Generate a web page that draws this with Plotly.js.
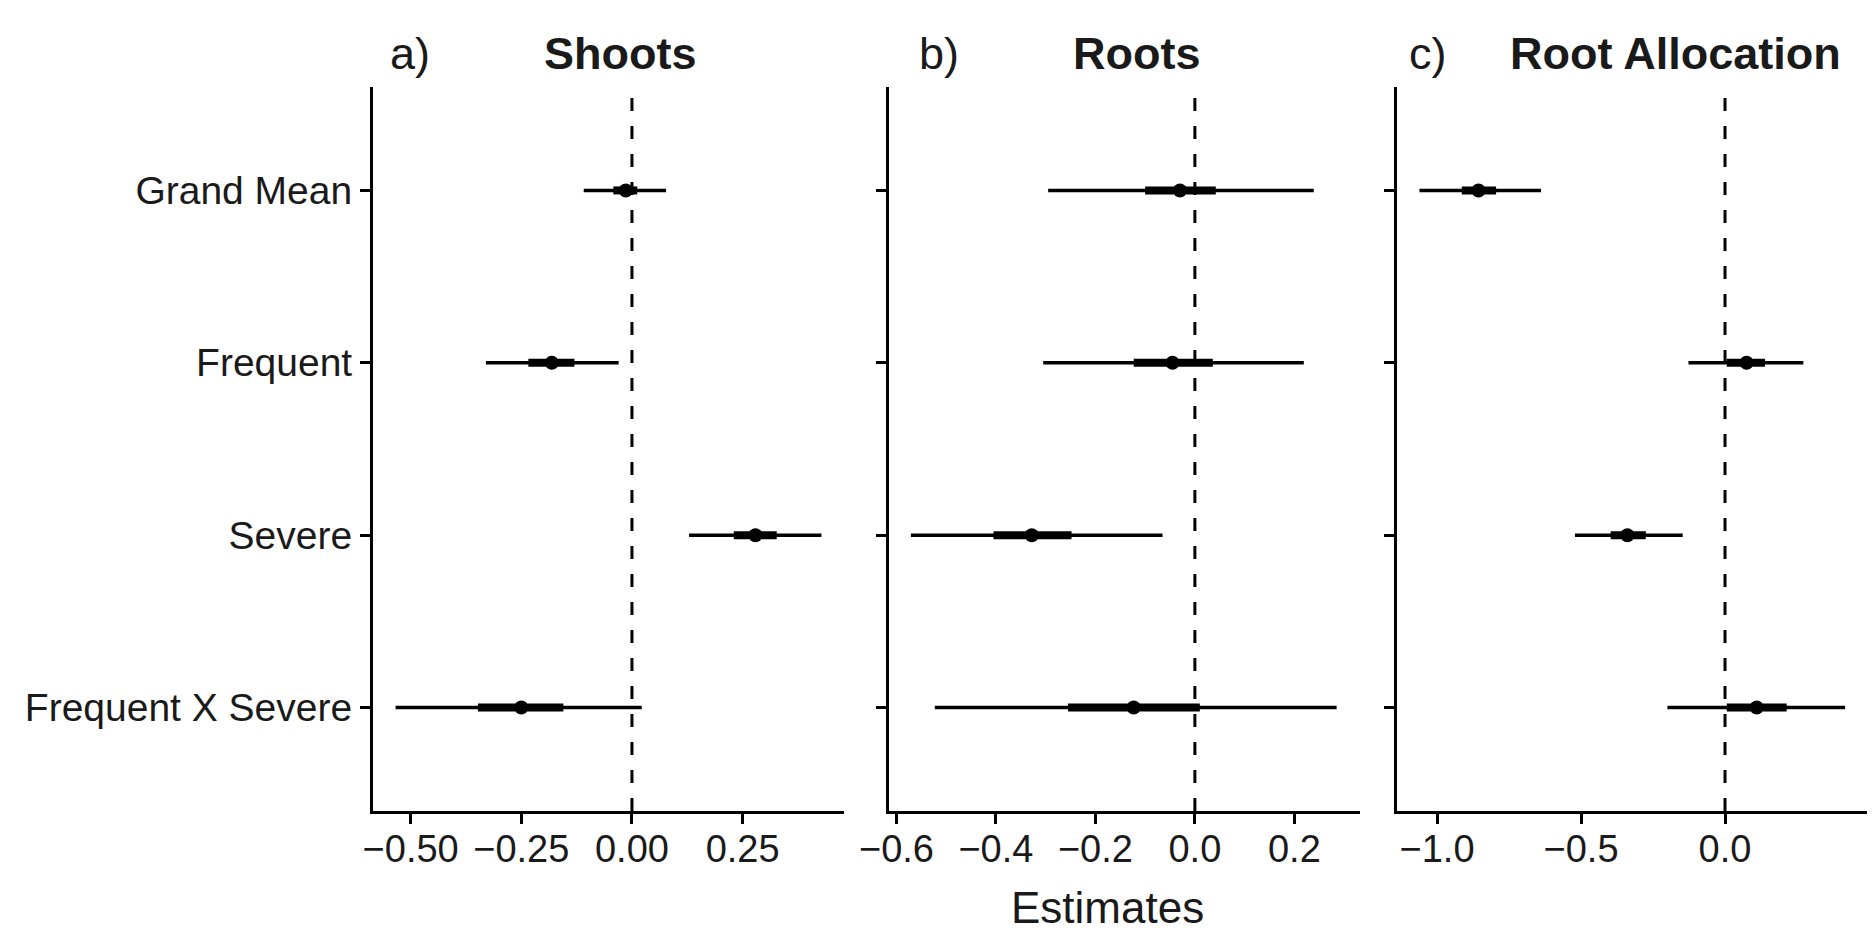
<!DOCTYPE html>
<html>
<head>
<meta charset="utf-8">
<script src="https://cdn.plot.ly/plotly-3.0.1.min.js"></script>
<style>
  html, body { margin: 0; padding: 0; background: #fff; }
  #chart { width: 1873px; height: 935px; }
</style>
</head>
<body>
<div id="chart"></div>
<script>
// ---------- data ----------
const categories = ['Grand Mean', 'Frequent', 'Severe', 'Frequent X Severe'];
const categoryOrder = ['Frequent X Severe', 'Severe', 'Frequent', 'Grand Mean']; // bottom -> top

// a) Shoots
const shootsEst  = [-0.014, -0.181,  0.279, -0.250];
const shootsLo95 = [-0.109, -0.330,  0.129, -0.534];
const shootsHi95 = [ 0.077, -0.030,  0.428,  0.022];
const shootsLo50 = [-0.042, -0.234,  0.230, -0.348];
const shootsHi50 = [ 0.012, -0.130,  0.327, -0.155];

// b) Roots
const rootsEst  = [-0.030, -0.045, -0.328, -0.123];
const rootsLo95 = [-0.295, -0.305, -0.571, -0.523];
const rootsHi95 = [ 0.239,  0.219, -0.065,  0.285];
const rootsLo50 = [-0.100, -0.123, -0.405, -0.255];
const rootsHi50 = [ 0.042,  0.036, -0.248,  0.010];

// c) Root Allocation
const allocEst  = [-0.856,  0.075, -0.339,  0.110];
const allocLo95 = [-1.061, -0.127, -0.521, -0.200];
const allocHi95 = [-0.639,  0.272, -0.147,  0.417];
const allocLo50 = [-0.914,  0.006, -0.397,  0.006];
const allocHi50 = [-0.795,  0.139, -0.275,  0.214];

// tick labels
const shootsTickVals = [-0.5, -0.25, 0, 0.25];
const shootsTickText = ['\u22120.50', '\u22120.25', '0.00', '0.25'];
const rootsTickVals  = [-0.6, -0.4, -0.2, 0, 0.2];
const rootsTickText  = ['\u22120.6', '\u22120.4', '\u22120.2', '0.0', '0.2'];
const allocTickVals  = [-1.0, -0.5, 0];
const allocTickText  = ['\u22121.0', '\u22120.5', '0.0'];

const panelTags   = ['a)', 'b)', 'c)'];
const panelTitles = ['Shoots', 'Roots', 'Root Allocation'];
const xAxisTitle  = 'Estimates';

// ---------- build ----------
const FONT = 'Liberation Sans, Arial, sans-serif';
const INK = '#000000';

function segs(lo, hi) {
  const xs = [], ys = [];
  for (let i = 0; i < categories.length; i++) {
    xs.push(lo[i], hi[i], null);
    ys.push(categories[i], categories[i], null);
  }
  return {xs, ys};
}

const panels = [
  {est: shootsEst, lo95: shootsLo95, hi95: shootsHi95, lo50: shootsLo50, hi50: shootsHi50, xa: 'x',  ya: 'y'},
  {est: rootsEst,  lo95: rootsLo95,  hi95: rootsHi95,  lo50: rootsLo50,  hi50: rootsHi50,  xa: 'x2', ya: 'y2'},
  {est: allocEst,  lo95: allocLo95,  hi95: allocHi95,  lo50: allocLo50,  hi50: allocHi50,  xa: 'x3', ya: 'y3'}
];

const traces = [];
panels.forEach(p => {
  const outer = segs(p.lo95, p.hi95);
  traces.push({type: 'scatter', mode: 'lines', x: outer.xs, y: outer.ys, xaxis: p.xa, yaxis: p.ya,
    line: {color: INK, width: 3.5}, hoverinfo: 'skip', showlegend: false, connectgaps: false});
  const inner = segs(p.lo50, p.hi50);
  traces.push({type: 'scatter', mode: 'lines', x: inner.xs, y: inner.ys, xaxis: p.xa, yaxis: p.ya,
    line: {color: INK, width: 8}, hoverinfo: 'skip', showlegend: false, connectgaps: false});
  traces.push({type: 'scatter', mode: 'markers', x: p.est, y: categories, xaxis: p.xa, yaxis: p.ya,
    marker: {color: INK, size: 14}, hoverinfo: 'skip', showlegend: false});
});

const W = 1873, H = 935;
const yDomain = [1 - 811 / H, 1 - 87 / H];

function xAxis(domain, range, vals, text) {
  return {
    domain: domain, range: range, tickmode: 'array', tickvals: vals, ticktext: text,
    showgrid: false, zeroline: false, showline: true, linecolor: INK, linewidth: 3,
    ticks: 'outside', ticklen: 10, tickwidth: 3, tickcolor: INK, ticklabelstandoff: -8,
    tickfont: {family: FONT, size: 38, color: '#1a1a1a'}, fixedrange: true
  };
}
function yAxis(anchor, showLabels) {
  return {
    domain: yDomain, anchor: anchor, type: 'category', categoryorder: 'array', categoryarray: categoryOrder,
    range: [-0.6, 3.6], showgrid: false, zeroline: false, showline: true, linecolor: INK, linewidth: 3,
    ticks: 'outside', ticklen: 10, tickwidth: 3, tickcolor: INK, showticklabels: showLabels,
    tickfont: {family: FONT, size: 39, color: '#1a1a1a'}, fixedrange: true
  };
}

const layout = {
  width: W, height: H,
  margin: {l: 0, r: 0, t: 0, b: 0},
  paper_bgcolor: '#ffffff', plot_bgcolor: '#ffffff',
  showlegend: false,
  xaxis:  Object.assign(xAxis([373 / W, 844 / W],  [-0.585, 0.479], shootsTickVals, shootsTickText), {anchor: 'y'}),
  xaxis2: Object.assign(xAxis([889 / W, 1360 / W], [-0.615, 0.332], rootsTickVals, rootsTickText), {anchor: 'y2'}),
  xaxis3: Object.assign(xAxis([1397 / W, 1867 / W], [-1.139, 0.493], allocTickVals, allocTickText), {anchor: 'y3'}),
  yaxis:  yAxis('x', true),
  yaxis2: yAxis('x2', false),
  yaxis3: yAxis('x3', false),
  shapes: ['x', 'x2', 'x3'].map((xa, i) => ({
    type: 'line', xref: xa, yref: ['y', 'y2', 'y3'][i] + ' domain',
    x0: 0, x1: 0, y0: 0, y1: 1, layer: 'below',
    line: {color: INK, width: 3, dash: '13px,15px'}
  })),
  annotations: []
};

const tagX = [410, 939, 1428];
const titleX = [620, 1137, 1675];
panelTags.forEach((t, i) => {
  layout.annotations.push({xref: 'paper', yref: 'paper', x: tagX[i] / W, y: 1 - 54 / H,
    xanchor: 'center', yanchor: 'middle', showarrow: false, text: t,
    font: {family: FONT, size: 45, color: '#1a1a1a'}});
  layout.annotations.push({xref: 'paper', yref: 'paper', x: titleX[i] / W, y: 1 - 54 / H,
    xanchor: 'center', yanchor: 'middle', showarrow: false, text: '<b>' + panelTitles[i] + '</b>',
    font: {family: FONT, size: 45, color: '#1a1a1a'}});
});
layout.annotations.push({xref: 'paper', yref: 'paper', x: 1107 / W, y: 1 - 907 / H,
  xanchor: 'center', yanchor: 'middle', showarrow: false, text: xAxisTitle,
  font: {family: FONT, size: 44, color: '#1a1a1a'}});

Plotly.newPlot('chart', traces, layout, {displayModeBar: false, staticPlot: true});
</script>
</body>
</html>
